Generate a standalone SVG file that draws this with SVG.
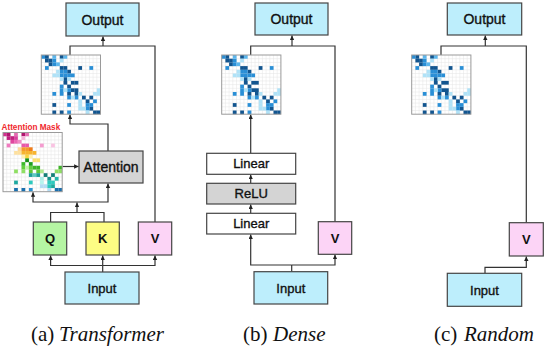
<svg xmlns="http://www.w3.org/2000/svg" xmlns:xlink="http://www.w3.org/1999/xlink" width="544" height="353" viewBox="0 0 544 353">
<style>
.box{stroke:#444;stroke-width:1.2}
.out,.inp{fill:#bdeefc}
.gray{fill:#d4d4d4}
.white{fill:#fff}
.q{fill:#b5f5a3}.k{fill:#fdfd84}.v{fill:#fcd4f6}
.lbl{font-family:"Liberation Sans",Arial,sans-serif;font-size:14px;fill:#111;stroke:#111;stroke-width:0.35px;text-anchor:middle}
.sm{font-size:13px}
.b{font-weight:bold;stroke-width:0}
.cap{font-family:"Liberation Serif","Times New Roman",serif;font-size:21px;fill:#111}
.it{font-style:italic}
.conn path{fill:none;stroke:#333;stroke-width:1.2}
.ar{marker-end:url(#ah)}
</style>
<defs>
<marker id="ah" markerUnits="userSpaceOnUse" markerWidth="5" markerHeight="5" refX="4.5" refY="2.2" orient="auto">
<path d="M0,0 L4.5,2.2 L0,4.4 z" fill="#222"/>
</marker>
<path id="grid" d="M3.7,0V59.2M7.4,0V59.2M11.1,0V59.2M14.8,0V59.2M18.5,0V59.2M22.2,0V59.2M25.9,0V59.2M29.6,0V59.2M33.3,0V59.2M37,0V59.2M40.7,0V59.2M44.4,0V59.2M48.1,0V59.2M51.8,0V59.2M55.5,0V59.2M0,3.7H59.2M0,7.4H59.2M0,11.1H59.2M0,14.8H59.2M0,18.5H59.2M0,22.2H59.2M0,25.9H59.2M0,29.6H59.2M0,33.3H59.2M0,37H59.2M0,40.7H59.2M0,44.4H59.2M0,48.1H59.2M0,51.8H59.2M0,55.5H59.2" fill="none" stroke="#e4e4e4" stroke-width="0.5"/>
<g id="hm">
<rect width="59.2" height="59.2" fill="#fff"/>
<use xlink:href="#grid"/>
<g fill="#12558f">
<rect x="3.7" y="0" width="3.75" height="3.75"/><rect x="18.5" y="0" width="3.75" height="3.75"/>
<rect x="3.7" y="3.7" width="3.75" height="3.75"/><rect x="7.4" y="3.7" width="3.75" height="3.75"/>
<rect x="7.4" y="7.4" width="3.75" height="3.75"/>
<rect x="18.5" y="11.1" width="3.75" height="3.75"/><rect x="22.2" y="11.1" width="3.75" height="3.75"/><rect x="37" y="11.1" width="3.75" height="3.75"/>
<rect x="25.9" y="14.8" width="3.75" height="3.75"/>
<rect x="22.2" y="22.2" width="3.75" height="3.75"/>
<rect x="22.2" y="25.9" width="3.75" height="3.75"/><rect x="29.6" y="25.9" width="3.75" height="3.75"/><rect x="33.3" y="25.9" width="3.75" height="3.75"/>
<rect x="25.9" y="29.6" width="3.75" height="3.75"/>
<rect x="29.6" y="33.3" width="3.75" height="3.75"/><rect x="33.3" y="33.3" width="3.75" height="3.75"/>
<rect x="25.9" y="37" width="3.75" height="3.75"/><rect x="33.3" y="37" width="3.75" height="3.75"/>
<rect x="40.7" y="40.7" width="3.75" height="3.75"/><rect x="48.1" y="40.7" width="3.75" height="3.75"/>
<rect x="44.4" y="44.4" width="3.75" height="3.75"/>
<rect x="11.1" y="48.1" width="3.75" height="3.75"/>
<rect x="48.1" y="51.8" width="3.75" height="3.75"/>
<rect x="11.1" y="55.5" width="3.75" height="3.75"/><rect x="18.5" y="55.5" width="3.75" height="3.75"/><rect x="51.8" y="55.5" width="3.75" height="3.75"/><rect x="55.5" y="55.5" width="3.7" height="3.7"/>
</g>
<g fill="#2a8fd6">
<rect x="0" y="0" width="3.75" height="3.75"/>
<rect x="11.1" y="3.7" width="3.75" height="3.75"/>
<rect x="11.1" y="7.4" width="3.75" height="3.75"/>
<rect x="3.7" y="11.1" width="3.75" height="3.75"/><rect x="48.1" y="11.1" width="3.75" height="3.75"/>
<rect x="18.5" y="14.8" width="3.75" height="3.75"/><rect x="22.2" y="14.8" width="3.75" height="3.75"/>
<rect x="18.5" y="18.5" width="3.75" height="3.75"/><rect x="22.2" y="18.5" width="3.75" height="3.75"/><rect x="25.9" y="18.5" width="3.75" height="3.75"/><rect x="29.6" y="18.5" width="3.75" height="3.75"/>
<rect x="18.5" y="29.6" width="3.75" height="3.75"/>
<rect x="18.5" y="33.3" width="3.75" height="3.75"/><rect x="25.9" y="33.3" width="3.75" height="3.75"/>
<rect x="11.1" y="37" width="3.75" height="3.75"/><rect x="18.5" y="37" width="3.75" height="3.75"/>
<rect x="25.9" y="40.7" width="3.75" height="3.75"/><rect x="33.3" y="40.7" width="3.75" height="3.75"/>
<rect x="51.8" y="44.4" width="3.75" height="3.75"/>
<rect x="25.9" y="48.1" width="3.75" height="3.75"/><rect x="44.4" y="48.1" width="3.75" height="3.75"/><rect x="48.1" y="48.1" width="3.75" height="3.75"/>
<rect x="44.4" y="51.8" width="3.75" height="3.75"/>
<rect x="25.9" y="55.5" width="3.75" height="3.75"/>
</g>
<g fill="#5cb6ec">
<rect x="11.1" y="0" width="3.75" height="3.75"/><rect x="22.2" y="0" width="3.75" height="3.75"/>
<rect x="14.8" y="7.4" width="3.75" height="3.75"/>
</g>
<g fill="#b0e2f7">
<rect x="18.5" y="3.7" width="3.75" height="3.75"/>
<rect x="14.8" y="14.8" width="3.75" height="3.75"/>
<rect x="11.1" y="18.5" width="3.75" height="3.75"/><rect x="14.8" y="18.5" width="3.75" height="3.75"/>
<rect x="18.5" y="22.2" width="3.75" height="3.75"/><rect x="25.9" y="22.2" width="3.75" height="3.75"/>
<rect x="22.2" y="33.3" width="3.75" height="3.75"/><rect x="55.5" y="33.3" width="3.7" height="3.75"/>
<rect x="37" y="37" width="3.75" height="3.75"/><rect x="51.8" y="37" width="3.75" height="3.75"/><rect x="55.5" y="37" width="3.7" height="3.75"/>
<rect x="29.6" y="40.7" width="3.75" height="3.75"/>
<rect x="37" y="44.4" width="3.75" height="3.75"/>
<rect x="37" y="48.1" width="3.75" height="3.75"/>
<rect x="37" y="51.8" width="3.75" height="3.75"/><rect x="40.7" y="51.8" width="3.75" height="3.75"/>
<rect x="44.4" y="55.5" width="3.75" height="3.7"/>
</g>
<rect width="59.2" height="59.2" fill="none" stroke="#9a9a9a" stroke-width="1"/>
</g>
</defs>

<!-- connectors -->
<g id="connectors" class="conn">
<!-- (a) -->
<path d="M70,55 V46 H155 V222"/>
<path class="ar" d="M103,46 V36.4"/>
<path class="ar" d="M108,151 V124 H70 V114.6"/>
<path class="ar" d="M62.5,166.5 H78.6"/>
<path d="M50.6,222 V212.5 H104 V222"/>
<path class="ar" d="M77,212.5 V202.6"/>
<path class="ar" d="M77,202 H33 V192.3"/>
<path class="ar" d="M77,202 H108 V183.4"/>
<path d="M102.7,272 V265.5"/>
<path class="ar" d="M102.7,265.5 H50.6 V255.4"/>
<path class="ar" d="M102.7,265.5 V255.4"/>
<path class="ar" d="M102.7,265.5 H155 V255.4"/>
<!-- (b) -->
<path d="M250.7,55 V46 H335 V221.7"/>
<path class="ar" d="M292,46 V35.6"/>
<path class="ar" d="M250.7,153.3 V114.6"/>
<path class="ar" d="M250.7,183.3 V174.7"/>
<path class="ar" d="M250.7,213.3 V204.4"/>
<path d="M291.7,271.7 V265"/>
<path class="ar" d="M291.7,265 H250.7 V234.4"/>
<path class="ar" d="M291.7,265 H335 V254.7"/>
<!-- (c) -->
<path d="M441,55 V46 H526.3 V222.7"/>
<path class="ar" d="M485.3,46 V35.6"/>
<path class="ar" d="M485,273.3 V267.3 H526.3 V256.4"/>
</g>

<!-- (a) Transformer -->
<g id="a-output"><rect class="box out" x="66" y="3" width="73" height="33"/><text class="lbl" x="102.5" y="24.5">Output</text></g>
<g id="a-matrix"><use xlink:href="#hm" x="41.3" y="55"/></g>
<g id="a-mask">
<text x="1.5" y="129.5" font-family="Liberation Sans,Arial,sans-serif" font-size="8.2" font-weight="bold" fill="#f0282d">Attention Mask</text>
<g transform="translate(3,132.5)">
<rect width="59.2" height="59.2" fill="#fff"/>
<use xlink:href="#grid"/>
<rect x="0" y="0" width="3.75" height="3.75" fill="#d0328f"/><rect x="3.7" y="0" width="3.75" height="3.75" fill="#b0166f"/><rect x="11.1" y="0" width="3.75" height="3.75" fill="#e46cb2"/><rect x="18.5" y="0" width="3.75" height="3.75" fill="#b0166f"/><rect x="22.2" y="0" width="3.75" height="3.75" fill="#e46cb2"/>
<rect x="3.7" y="3.7" width="3.75" height="3.75" fill="#c0207f"/><rect x="7.4" y="3.7" width="3.75" height="3.75" fill="#c0207f"/><rect x="11.1" y="3.7" width="3.75" height="3.75" fill="#d9409e"/><rect x="18.5" y="3.7" width="3.75" height="3.75" fill="#f5b4da"/>
<rect x="7.4" y="7.4" width="3.75" height="3.75" fill="#e0479f"/><rect x="11.1" y="7.4" width="3.75" height="3.75" fill="#ea66b3"/><rect x="14.8" y="7.4" width="3.75" height="3.75" fill="#f08cc6"/>
<rect x="3.7" y="11.1" width="3.75" height="3.75" fill="#f07bbf"/><rect x="18.5" y="11.1" width="3.75" height="3.75" fill="#e85aa8"/><rect x="22.2" y="11.1" width="3.75" height="3.75" fill="#e85aa8"/><rect x="37" y="11.1" width="3.75" height="3.75" fill="#f49ccf"/><rect x="48.1" y="11.1" width="3.75" height="3.75" fill="#f9c3e2"/>
<rect x="14.8" y="14.8" width="3.75" height="3.75" fill="#fcd79c"/><rect x="18.5" y="14.8" width="3.75" height="3.75" fill="#f59a2a"/><rect x="22.2" y="14.8" width="3.75" height="3.75" fill="#f59a2a"/><rect x="25.9" y="14.8" width="3.75" height="3.75" fill="#ef7d1a"/>
<rect x="11.1" y="18.5" width="3.75" height="3.75" fill="#fde0a0"/><rect x="14.8" y="18.5" width="3.75" height="3.75" fill="#fde0a0"/><rect x="18.5" y="18.5" width="3.75" height="3.75" fill="#f7b42e"/><rect x="22.2" y="18.5" width="3.75" height="3.75" fill="#f7b42e"/><rect x="25.9" y="18.5" width="3.75" height="3.75" fill="#f7b42e"/><rect x="29.6" y="18.5" width="3.75" height="3.75" fill="#f7b42e"/>
<rect x="18.5" y="22.2" width="3.75" height="3.75" fill="#fff0b0"/><rect x="22.2" y="22.2" width="3.75" height="3.75" fill="#f8d43c"/><rect x="25.9" y="22.2" width="3.75" height="3.75" fill="#fff0b0"/>
<rect x="22.2" y="25.9" width="3.75" height="3.75" fill="#178f17"/><rect x="29.6" y="25.9" width="3.75" height="3.75" fill="#fbe070"/><rect x="33.3" y="25.9" width="3.75" height="3.75" fill="#fbe070"/>
<rect x="18.5" y="29.6" width="3.75" height="3.75" fill="#3dbb2c"/><rect x="25.9" y="29.6" width="3.75" height="3.75" fill="#1f9f1f"/>
<rect x="18.5" y="33.3" width="3.75" height="3.75" fill="#62cf3e"/><rect x="22.2" y="33.3" width="3.75" height="3.75" fill="#c3f4ab"/><rect x="25.9" y="33.3" width="3.75" height="3.75" fill="#62cf3e"/><rect x="29.6" y="33.3" width="3.75" height="3.75" fill="#3fb52a"/><rect x="33.3" y="33.3" width="3.75" height="3.75" fill="#3fb52a"/><rect x="55.5" y="33.3" width="3.7" height="3.75" fill="#3fb52a"/>
<rect x="11.1" y="37" width="3.75" height="3.75" fill="#8fdf63"/><rect x="18.5" y="37" width="3.75" height="3.75" fill="#8fdf63"/><rect x="25.9" y="37" width="3.75" height="3.75" fill="#5fc83a"/><rect x="33.3" y="37" width="3.75" height="3.75" fill="#5fc83a"/><rect x="37" y="37" width="3.75" height="3.75" fill="#aee98e"/><rect x="51.8" y="37" width="3.75" height="3.75" fill="#8fdf63"/><rect x="55.5" y="37" width="3.7" height="3.75" fill="#8fdf63"/>
<rect x="25.9" y="40.7" width="3.75" height="3.75" fill="#1f9f96"/><rect x="29.6" y="40.7" width="3.75" height="3.75" fill="#5cc9c0"/><rect x="33.3" y="40.7" width="3.75" height="3.75" fill="#1f9f96"/><rect x="40.7" y="40.7" width="3.75" height="3.75" fill="#147f78"/><rect x="48.1" y="40.7" width="3.75" height="3.75" fill="#147f78"/>
<rect x="37" y="44.4" width="3.75" height="3.75" fill="#aaeee8"/><rect x="44.4" y="44.4" width="3.75" height="3.75" fill="#1a948c"/><rect x="51.8" y="44.4" width="3.75" height="3.75" fill="#26b8ac"/>
<rect x="11.1" y="48.1" width="3.75" height="3.75" fill="#1ea89f"/><rect x="25.9" y="48.1" width="3.75" height="3.75" fill="#2ec9be"/><rect x="37" y="48.1" width="3.75" height="3.75" fill="#b6f3ee"/><rect x="44.4" y="48.1" width="3.75" height="3.75" fill="#2ec9be"/><rect x="48.1" y="48.1" width="3.75" height="3.75" fill="#2ec9be"/>
<rect x="37" y="51.8" width="3.75" height="3.75" fill="#b3dcf4"/><rect x="40.7" y="51.8" width="3.75" height="3.75" fill="#b3dcf4"/><rect x="44.4" y="51.8" width="3.75" height="3.75" fill="#2ec9be"/><rect x="48.1" y="51.8" width="3.75" height="3.75" fill="#1ea89f"/>
<rect x="11.1" y="55.5" width="3.75" height="3.7" fill="#1a6fae"/><rect x="18.5" y="55.5" width="3.75" height="3.7" fill="#1a6fae"/><rect x="25.9" y="55.5" width="3.75" height="3.7" fill="#2a8fd0"/><rect x="44.4" y="55.5" width="3.75" height="3.7" fill="#b3dcf4"/><rect x="51.8" y="55.5" width="3.75" height="3.7" fill="#1a6fae"/><rect x="55.5" y="55.5" width="3.7" height="3.7" fill="#1a6fae"/>
<rect width="59.2" height="59.2" fill="none" stroke="#9a9a9a" stroke-width="1"/>
</g>
</g>
<g id="a-attention"><rect class="box gray" x="79" y="151" width="64" height="32"/><text class="lbl" x="111" y="172">Attention</text></g>
<g id="a-q"><rect class="box q" x="33.3" y="222" width="33.4" height="33"/><text class="lbl sm b" x="50" y="243">Q</text></g>
<g id="a-k"><rect class="box k" x="86" y="222" width="33.3" height="33"/><text class="lbl sm b" x="102.7" y="243">K</text></g>
<g id="a-v"><rect class="box v" x="138.3" y="222" width="33.4" height="33"/><text class="lbl sm b" x="155" y="243">V</text></g>
<g id="a-input"><rect class="box inp" x="65" y="272" width="74" height="32"/><text class="lbl sm" x="102" y="292.5">Input</text></g>
<text class="cap" y="341"><tspan x="31">(a)</tspan><tspan class="it" x="59">Transformer</tspan></text>

<!-- (b) Dense -->
<g id="b-output"><rect class="box out" x="255" y="3" width="73" height="32"/><text class="lbl" x="291.5" y="24">Output</text></g>
<g id="b-matrix"><use xlink:href="#hm" x="221.7" y="55"/></g>
<g id="b-linear2"><rect class="box white" x="206.7" y="153.3" width="89" height="21"/><text class="lbl sm" x="251.2" y="168.4">Linear</text></g>
<g id="b-relu"><rect class="box gray" x="206.7" y="183.3" width="89" height="20.7"/><text class="lbl sm" x="251.2" y="198.2">ReLU</text></g>
<g id="b-linear1"><rect class="box white" x="206.7" y="213.3" width="89" height="20.7"/><text class="lbl sm" x="251.2" y="228.2">Linear</text></g>
<g id="b-v"><rect class="box v" x="318.3" y="221.7" width="33.4" height="32.6"/><text class="lbl sm b" x="335" y="242.5">V</text></g>
<g id="b-input"><rect class="box inp" x="254" y="271.7" width="73.7" height="32.3"/><text class="lbl sm" x="290.8" y="292.5">Input</text></g>
<text class="cap" y="341"><tspan x="243">(b)</tspan><tspan class="it" x="273">Dense</tspan></text>

<!-- (c) Random -->
<g id="c-output"><rect class="box out" x="447.3" y="3" width="74.4" height="32"/><text class="lbl" x="484.5" y="24">Output</text></g>
<g id="c-matrix"><use xlink:href="#hm" x="411.7" y="55"/></g>
<g id="c-v"><rect class="box v" x="509.3" y="222.7" width="34" height="33.3"/><text class="lbl sm b" x="526.3" y="244">V</text></g>
<g id="c-input"><rect class="box inp" x="447.3" y="273.3" width="74.4" height="33"/><text class="lbl sm" x="484.5" y="294.5">Input</text></g>
<text class="cap" y="341"><tspan x="434">(c)</tspan><tspan class="it" x="464">Random</tspan></text>
</svg>
